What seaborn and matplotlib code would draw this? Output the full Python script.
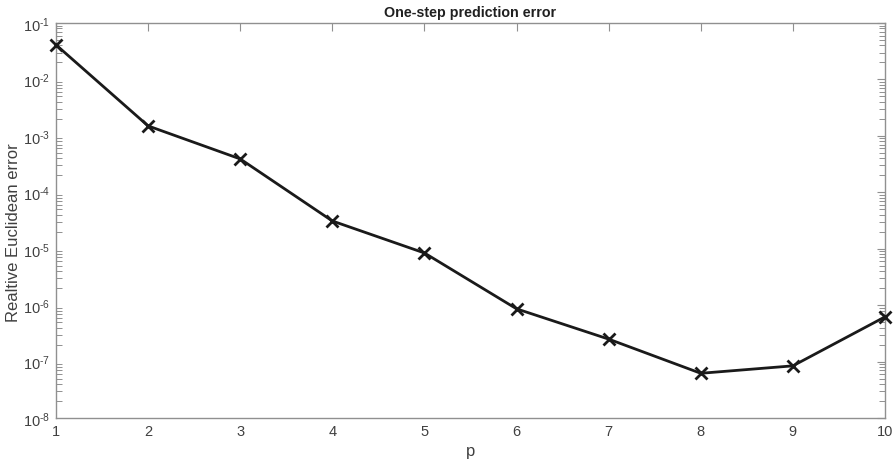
import matplotlib
matplotlib.use("Agg")
import matplotlib.pyplot as plt
import seaborn as sns
import numpy as np
import pandas as pd
from matplotlib.ticker import LogLocator, NullFormatter, FixedLocator, FuncFormatter

p_values = [1, 2, 3, 4, 5, 6, 7, 8, 9, 10]
errors = [4.1e-2, 1.5e-3, 3.9e-4, 3.1e-5, 8.4e-6, 8.6e-7, 2.5e-7, 6.2e-8, 8.4e-8, 6.2e-7]
title = "One-step prediction error"
xlabel = "p"
ylabel = "Realtive Euclidean error"

sns.set_theme(style="white")
plt.rcParams['font.family'] = ['Liberation Sans', 'DejaVu Sans']
plt.rcParams['mathtext.fontset'] = 'custom'
plt.rcParams['mathtext.rm'] = 'Liberation Sans'
plt.rcParams['mathtext.it'] = 'Liberation Sans'

df = pd.DataFrame({"p": p_values, "err": errors})

fig = plt.figure(figsize=(8.95, 4.6), dpi=100)
ax = fig.add_axes([56/895, 1 - 419/460, (885 - 56)/895, (419 - 24)/460])

sns.lineplot(data=df, x="p", y="err", ax=ax, color="#1a1a1a", linewidth=2.0,
             marker="x", markersize=8, markeredgewidth=2.0, markeredgecolor="#1a1a1a")
for ln in ax.lines:
    ln.set_clip_on(False)
    ln.set_zorder(5)

ax.set_yscale("log")
ax.set_xlim(1, 10)
ax.set_ylim(1e-8, 1e-1)
ax.xaxis.set_major_locator(FixedLocator(p_values))
ax.yaxis.set_major_locator(LogLocator(base=10, numticks=20))
ax.yaxis.set_minor_locator(LogLocator(base=10, subs=np.arange(2, 10), numticks=100))
ax.yaxis.set_minor_formatter(NullFormatter())


def log_fmt(v, pos):
    e = int(round(np.log10(v)))
    sign = "\u2010" if e < 0 else ""
    return r"$\mathregular{10^{%s%d}}$" % (sign, abs(e))


ax.yaxis.set_major_formatter(FuncFormatter(log_fmt))

gray = "#909090"
for s in ax.spines.values():
    s.set_color(gray)
    s.set_linewidth(1.0)
ax.tick_params(axis="both", which="major", direction="in", length=6, width=0.8,
               color=gray, labelcolor="#404040", labelsize=10.5,
               top=True, right=True)
ax.tick_params(axis="y", which="minor", direction="in", length=4, width=0.7,
               color=gray, right=True, left=True)
ax.tick_params(axis="x", pad=4)
ax.tick_params(axis="y", pad=4)

ax.set_title(title, fontsize=10.3, fontweight="bold", color="#202020", pad=5)
ax.set_xlabel(xlabel, fontsize=12, color="#404040", labelpad=4)
ax.set_ylabel("")
ax.yaxis.label.set_visible(False)
fig.text(14/895, 1 - 233/460, ylabel, rotation=90, ha="center", va="center",
         fontsize=12, color="#404040")

fig.savefig("out.png", dpi=100)
